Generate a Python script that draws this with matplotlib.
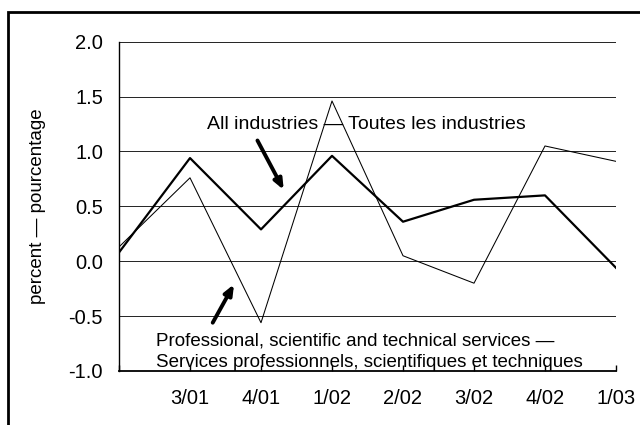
import matplotlib
matplotlib.use("Agg")
import matplotlib.pyplot as plt
from matplotlib.patches import Rectangle

plt.rcParams['font.family'] = ['Liberation Sans', 'DejaVu Sans']

quarters = ["2/01", "3/01", "4/01", "1/02", "2/02", "3/02", "4/02", "1/03"]
tick_labels = ["", "3/01", "4/01", "1/02", "2/02", "3/02", "4/02", "1/03"]
all_industries = [0.08, 0.94, 0.29, 0.96, 0.36, 0.56, 0.60, -0.06]
professional = [0.13, 0.76, -0.56, 1.46, 0.05, -0.20, 1.05, 0.91]
y_ticks = [-1.0, -0.5, 0.0, 0.5, 1.0, 1.5, 2.0]

W, H = 640, 425
fig = plt.figure(figsize=(6.4, 4.25), dpi=100)
fig.patches.append(Rectangle((8 / W, -0.1), 1.0, (H - 12) / H + 0.1,
                             transform=fig.transFigure, fill=False,
                             edgecolor="black", linewidth=2.0))

ax = fig.add_axes([119 / W, (H - 371) / H, (616 - 119) / W, (371 - 41.7) / H])
x = list(range(len(quarters)))

for yv in y_ticks[1:]:
    ax.axhline(yv, color="#222222", linewidth=0.7, zorder=1)

ax.plot(x, professional, color="black", linewidth=0.75, zorder=3)
ax.plot(x, all_industries, color="black", linewidth=1.6, zorder=3)

ax.set_xlim(0, len(quarters) - 1)
ax.set_ylim(-1.0, 2.0)
ax.set_yticks(y_ticks)
ax.set_yticklabels([f"{v:.1f}" for v in y_ticks], fontsize=14.5)
ax.set_xticks(x)
ax.set_xticklabels(tick_labels, fontsize=14.5)
ax.tick_params(axis="x", direction="in", length=4, width=1, pad=13)
ax.tick_params(axis="y", length=0, pad=11.5)

for s in ["top", "right"]:
    ax.spines[s].set_visible(False)
ax.spines["left"].set_linewidth(1.0)
ax.spines["bottom"].set_linewidth(1.3)

ax.set_ylabel("percent — pourcentage", fontsize=13.5, labelpad=16)

ax.text(1.235, 1.204, "All industries — Toutes les industries",
        fontsize=14, va="baseline", ha="left", zorder=4)
ax.text(0.52, -0.764, "Professional, scientific and technical services —",
        fontsize=13.5, va="baseline", ha="left", zorder=4)
ax.text(0.52, -0.964, "Services professionnels, scientifiques et techniques",
        fontsize=13.5, va="baseline", ha="left", zorder=4)

arrow = dict(arrowstyle="-|>,head_length=0.6,head_width=0.25",
             color="black", linewidth=2.8, shrinkA=0, shrinkB=0)
ax.annotate("", xy=(2.32, 0.65), xytext=(1.95, 1.10), arrowprops=arrow)
ax.annotate("", xy=(1.62, -0.21), xytext=(1.32, -0.56), arrowprops=arrow)

fig.savefig("out.png", dpi=100)
